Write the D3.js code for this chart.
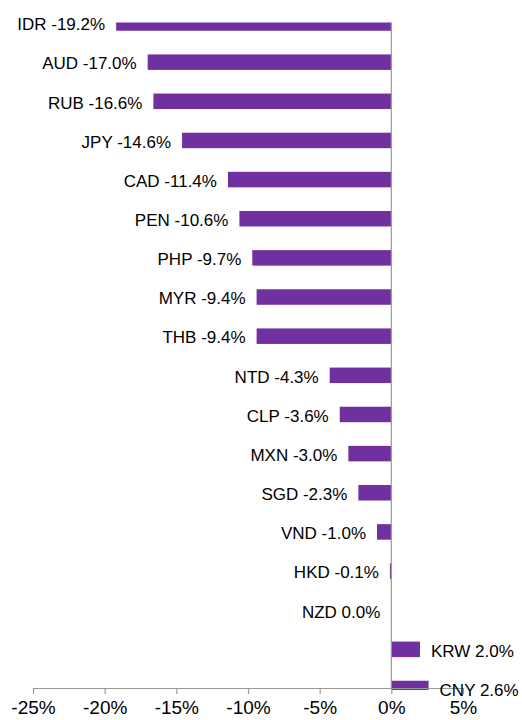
<!DOCTYPE html>
<html>
<head>
<meta charset="utf-8">
<script src="https://cdn.jsdelivr.net/npm/d3@7"></script>
<style>
  body { margin: 0; background: #fff; }
  text { font-family: Arial, 'Liberation Sans', sans-serif; fill: #000; }
</style>
</head>
<body>
<div id="chart"></div>
<script>
const currencies = ['IDR', 'AUD', 'RUB', 'JPY', 'CAD', 'PEN', 'PHP', 'MYR', 'THB', 'NTD', 'CLP', 'MXN', 'SGD', 'VND', 'HKD', 'NZD', 'KRW', 'CNY']
const changes = [-19.2, -17.0, -16.6, -14.6, -11.4, -10.6, -9.7, -9.4, -9.4, -4.3, -3.6, -3.0, -2.3, -1.0, -0.1, 0.0, 2.0, 2.6]
const tickValues = [-25, -20, -15, -10, -5, 0, 5]

const width = 522
const height = 720

const datapoints = currencies.map((c, i) => ({ name: c, value: changes[i] }))

const svg = d3
  .select('#chart')
  .append('svg')
  .attr('width', width)
  .attr('height', height)

const xScale = d3.scaleLinear().domain([-25, 5]).range([33, 463])

const yScale = d3
  .scalePoint()
  .domain(currencies)
  .range([23, 688.5])

const barHeight = 15.5
const plotTop = 22.5
const plotBottom = 690

// plot area clips the first and last bars like the original
svg
  .append('clipPath')
  .attr('id', 'plot-clip')
  .append('rect')
  .attr('x', 0)
  .attr('y', plotTop)
  .attr('width', width)
  .attr('height', plotBottom - plotTop)

svg
  .append('g')
  .attr('clip-path', 'url(#plot-clip)')
  .selectAll('rect')
  .data(datapoints)
  .enter()
  .append('rect')
  .attr('x', d => xScale(Math.min(0, d.value)))
  .attr('y', d => yScale(d.name) - barHeight / 2)
  .attr('width', d => Math.abs(xScale(d.value) - xScale(0)))
  .attr('height', barHeight)
  .attr('fill', '#7030a0')

// zero line
svg
  .append('line')
  .attr('x1', xScale(0))
  .attr('x2', xScale(0))
  .attr('y1', plotTop)
  .attr('y2', 688)
  .attr('stroke', '#999')
  .attr('stroke-width', 1.2)

// x axis
const xAxis = d3
  .axisBottom(xScale)
  .tickValues(tickValues)
  .tickSize(6)
  .tickSizeOuter(0)
  .tickPadding(7)
  .tickFormat(d => d + '%')

const axisG = svg
  .append('g')
  .attr('transform', 'translate(0,688)')
  .call(xAxis)

axisG.selectAll('path, line').attr('stroke', '#999').attr('stroke-width', 1.2)
axisG
  .selectAll('text')
  .attr('font-size', 19)
  .attr('font-family', 'Arial, Liberation Sans, sans-serif')
  .attr('fill', '#000')

// bar labels
svg
  .selectAll('.label')
  .data(datapoints)
  .enter()
  .append('text')
  .attr('class', 'label')
  .attr('x', d => (d.value > 0 ? xScale(d.value) + 11 : xScale(d.value) - 11))
  .attr('y', d => yScale(d.name))
  .attr('dy', '0.43em')
  .attr('text-anchor', d => (d.value > 0 ? 'start' : 'end'))
  .attr('font-size', 17)
  .text(d => `${d.name} ${d.value.toFixed(1)}%`)
</script>
</body>
</html>
